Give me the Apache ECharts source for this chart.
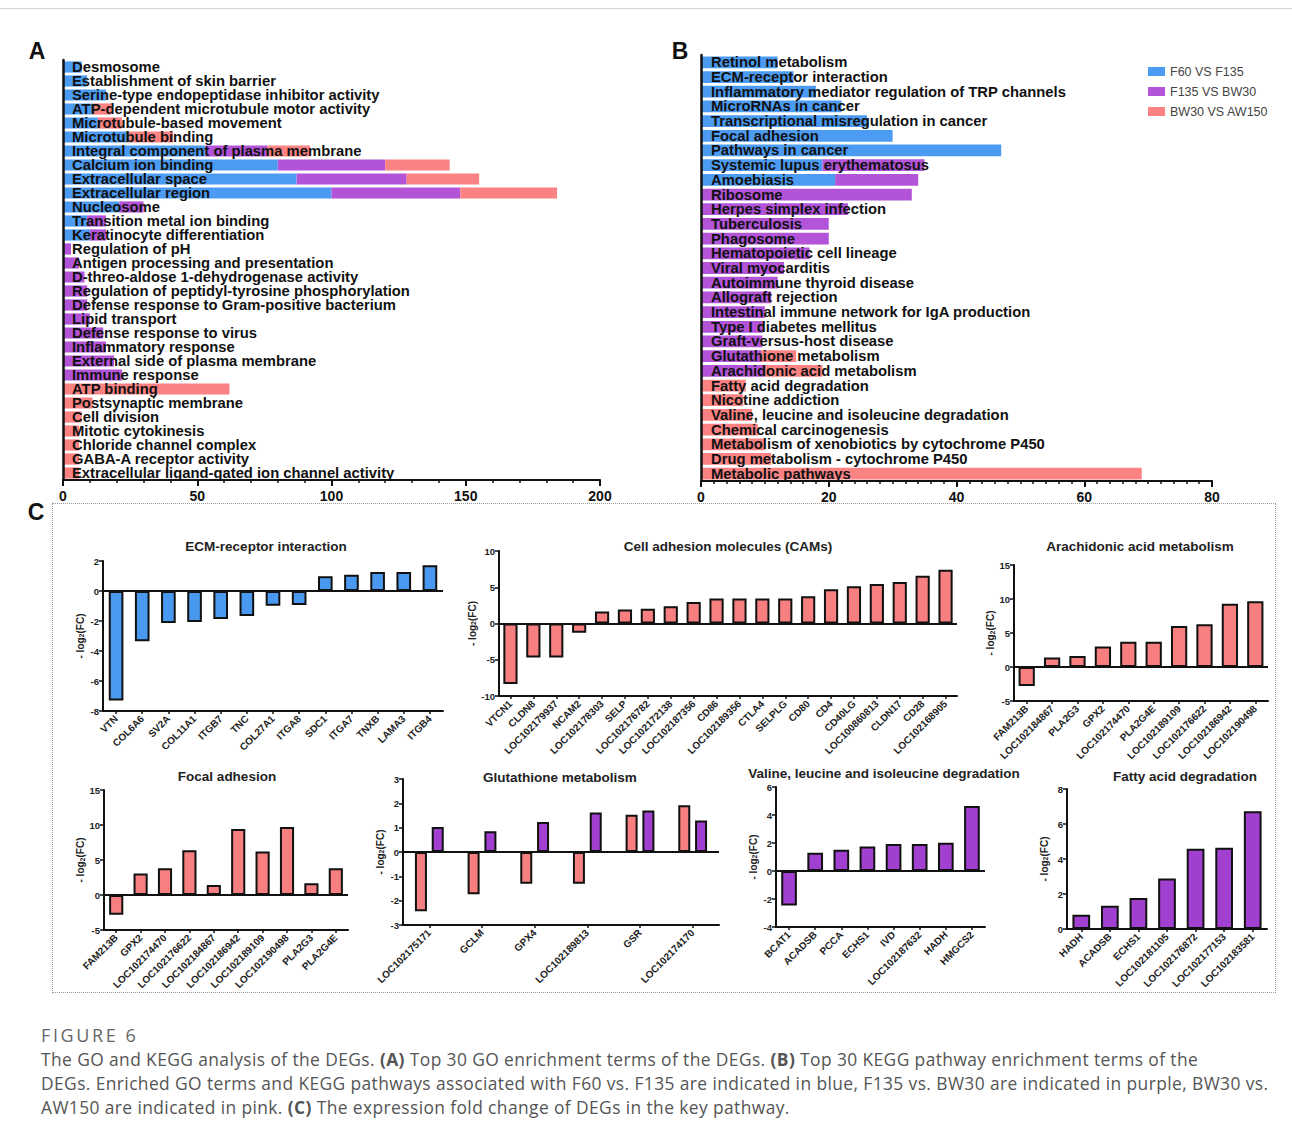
<!DOCTYPE html>
<html><head><meta charset="utf-8">
<script src="https://cdn.jsdelivr.net/npm/echarts@6/dist/echarts.min.js"></script>
<style>
html,body{margin:0;padding:0;background:#fff;}
#wrap{position:relative;width:1292px;height:1137px;overflow:hidden;background:#fff;}
#topline{position:absolute;left:0;top:8px;width:1292px;height:0;border-top:1px solid #d4d4d4;}
#cbox{position:absolute;left:52px;top:503px;width:1224px;height:490px;border:1px dotted #9a9a9a;box-sizing:border-box;}
#chart{position:absolute;left:0;top:0;width:1292px;height:1005px;}
#caption{position:absolute;left:41px;top:1023px;font-family:"Open Sans","Noto Sans",sans-serif;color:#555;white-space:nowrap;}
#caption .fig{font-size:18px;letter-spacing:2.6px;line-height:24px;color:#666;}
#caption .txt{font-size:17.4px;letter-spacing:0.4px;line-height:24px;}
</style></head>
<body><div id="wrap">
<div id="topline"></div>
<div id="cbox"></div>
<div id="chart"></div>
<div id="caption">
<div class="fig">FIGURE 6</div>
<div class="txt">The GO and KEGG analysis of the DEGs. <b>(A)</b> Top 30 GO enrichment terms of the DEGs. <b>(B)</b> Top 30 KEGG pathway enrichment terms of the<br>DEGs. Enriched GO terms and KEGG pathways associated with F60 vs. F135 are indicated in blue, F135 vs. BW30 are indicated in purple, BW30 vs.<br>AW150 are indicated in pink. <b>(C)</b> The expression fold change of DEGs in the key pathway.</div>
</div>
</div>
<script>
// ---------- DATA ----------
const groups = ['F60 VS F135', 'F135 VS BW30', 'BW30 VS AW150'];

const goTerms = ["Desmosome","Establishment of skin barrier","Serine-type endopeptidase inhibitor activity","ATP-dependent microtubule motor activity","Microtubule-based movement","Microtubule binding","Integral component of plasma membrane","Calcium ion binding","Extracellular space","Extracellular region","Nucleosome","Transition metal ion binding","Keratinocyte differentiation","Regulation of pH","Antigen processing and presentation","D-threo-aldose 1-dehydrogenase activity","Regulation of peptidyl-tyrosine phosphorylation","Defense response to Gram-positive bacterium","Lipid transport","Defense response to virus","Inflammatory response","External side of plasma membrane","Immune response","ATP binding","Postsynaptic membrane","Cell division","Mitotic cytokinesis","Chloride channel complex","GABA-A receptor activity","Extracellular ligand-gated ion channel activity"];
const goBlue   = [7,9,16,11,13,24,53,80,87,100,21,9,10,0,0,0,0,0,0,0,0,0,0,0,0,0,0,0,0,0];
const goPurple = [0,0,0,0,0,0,23,40,41,48,9,7,6,3,6,8,9,9,10,15,16,19,22,0,0,0,0,0,0,0];
const goPink   = [0,0,0,7,9,17,16,24,27,36,0,0,0,0,0,0,0,0,0,0,0,0,0,62,11,7,6,6,6,6];
const goTicks  = [0,50,100,150,200];

const keggTerms = ["Retinol metabolism","ECM-receptor interaction","Inflammatory mediator regulation of TRP channels","MicroRNAs in cancer","Transcriptional misregulation in cancer","Focal adhesion","Pathways in cancer","Systemic lupus erythematosus","Amoebiasis","Ribosome","Herpes simplex infection","Tuberculosis","Phagosome","Hematopoietic cell lineage","Viral myocarditis","Autoimmune thyroid disease","Allograft rejection","Intestinal immune network for IgA production","Type I diabetes mellitus","Graft-versus-host disease","Glutathione metabolism","Arachidonic acid metabolism","Fatty acid degradation","Nicotine addiction","Valine, leucine and isoleucine degradation","Chemical carcinogenesis","Metabolism of xenobiotics by cytochrome P450","Drug metabolism - cytochrome P450","Metabolic pathways"];
const keggBlue   = [12,14.5,18,22,26,30,47,19,21,0,0,0,0,0,0,0,0,0,0,0,0,0,0,0,0,0,0,0,0];
const keggPurple = [0,0,0,0,0,0,0,16,13,33,23,20,20,17,13,12,11,10,9.7,9.6,9.4,10,0,0,0,0,0,0,0];
const keggPink   = [0,0,0,0,0,0,0,0,0,0,0,0,0,0,0,0,0,0,0,0,5.5,9,7,6.6,8,8.9,10,11,69];
const keggTicks  = [0,20,40,60,80];

const ecmGenes = ["VTN","COL6A6","SV2A","COL11A1","ITGB7","TNC","COL27A1","ITGA8","SDC1","ITGA7","TNXB","LAMA3","ITGB4"];
const ecmFC    = [-7.3,-3.35,-2.13,-2.07,-1.87,-1.67,-0.98,-0.93,0.98,1.09,1.27,1.27,1.71];

const camGenes = ["VTCN1","CLDN8","LOC102179937","NCAM2","LOC102178303","SELP","LOC102176782","LOC102172138","LOC102187356","CD86","LOC102189356","CTLA4","SELPLG","CD80","CD4","CD40LG","LOC100860813","CLDN17","CD28","LOC102168905"];
const camFC    = [-8.35,-4.68,-4.68,-1.28,1.65,1.93,2.02,2.39,2.98,3.44,3.44,3.44,3.44,3.76,4.72,5.14,5.46,5.73,6.6,7.43];

const araGenes = ["FAM213B","LOC102184867","PLA2G3","GPX2","LOC102174470","PLA2G4E","LOC102189109","LOC102176622","LOC102186942","LOC102190498"];
const araFC    = [-2.8,1.38,1.62,3.0,3.73,3.73,6.04,6.29,9.29,9.68];

const focGenes = ["FAM213B","GPX2","LOC102174470","LOC102176622","LOC102184867","LOC102186942","LOC102189109","LOC102190498","PLA2G3","PLA2G4E"];
const focFC    = [-2.82,3.06,3.83,6.41,1.44,9.43,6.22,9.71,1.67,3.83];

const gluGenes  = ["LOC102175171","GCLM","GPX4","LOC102189813","GSR","LOC102174170"];
const gluPink   = [-2.44,-1.74,-1.3,-1.3,1.53,1.92];
const gluPurple = [1.03,0.85,1.23,1.62,1.71,1.29];

const valGenes = ["BCAT1","ACADSB","PCCA","ECHS1","IVD","LOC102187632","HADH","HMGCS2"];
const valFC    = [-2.46,1.3,1.52,1.75,1.92,1.92,2.01,4.64];

const fatGenes = ["HADH","ACADSB","ECHS1","LOC102181105","LOC102176872","LOC102177153","LOC102183581"];
const fatFC    = [0.82,1.33,1.77,2.89,4.58,4.64,6.73];

// ---------- STYLE ----------
const FONT = 'Arial, "Liberation Sans", Helvetica, sans-serif';
const BLUE = '#4b9bf3', PURPLE = '#b253d8', PINK = '#fa8282';
const CBLUE = '#4a99f0', CPURPLE = '#a13fd0', CPINK = '#f87f7f';
const INK = '#111';

const grids = [], xAxes = [], yAxes = [], series = [], graphics = [];

function letter(t, x, y) {
  graphics.push({type:'text', x:x, y:y, z:20, style:{text:t, fill:INK, font:'bold 23px ' + FONT, align:'center', verticalAlign:'middle'}});
}
letter('A', 37, 51); letter('B', 680, 51); letter('C', 36, 512);

function enrichPanel(grid, terms, blue, purple, pink, ticks, minorSplit, labelMargin) {
  const gi = grids.length;
  grids.push(grid);
  xAxes.push({gridIndex:gi, type:'value', min:ticks[0], max:ticks[ticks.length-1], interval:ticks[1]-ticks[0],
    axisLine:{show:true, lineStyle:{color:INK, width:2.2}},
    axisTick:{show:true, length:6, lineStyle:{color:INK, width:2}},
    minorTick:{show:true, splitNumber:minorSplit, length:3, lineStyle:{color:INK, width:1.5}},
    splitLine:{show:false},
    axisLabel:{color:INK, fontFamily:FONT, fontWeight:'bold', fontSize:14, margin:9}});
  yAxes.push({gridIndex:gi, type:'category', inverse:true, data:terms, z:5,
    axisLine:{show:true, lineStyle:{color:INK, width:2.5}},
    axisTick:{show:false},
    axisLabel:{inside:true, interval:0, margin:labelMargin, color:INK, fontFamily:FONT, fontWeight:'bold', fontSize:14.8}});
  const vals = [blue, purple, pink], cols = [BLUE, PURPLE, PINK];
  for (let k = 0; k < 3; k++) {
    series.push({type:'bar', name:groups[k], xAxisIndex:gi, yAxisIndex:gi, stack:'s' + gi,
      data:vals[k], barWidth:'80%', itemStyle:{color:cols[k]}, emphasis:{disabled:true}});
  }
}
enrichPanel({left:63, top:60, width:537, height:420}, goTerms, goBlue, goPurple, goPink, goTicks, 5, 9);
enrichPanel({left:701, top:55, width:511, height:426}, keggTerms, keggBlue, keggPurple, keggPink, keggTicks, 10, 10);

function fcPanel(o) {
  const gi = grids.length;
  grids.push(o.grid);
  xAxes.push({gridIndex:gi, type:'category', data:o.cats,
    axisLine:{show:true, onZero:false, lineStyle:{color:INK, width:2}},
    axisTick:{show:true, alignWithLabel:true, length:3, lineStyle:{color:INK, width:1.5}},
    axisLabel:{interval:0, rotate:45, margin:6, color:'#222', fontFamily:FONT, fontWeight:'bold', fontSize:10}});
  yAxes.push({gridIndex:gi, type:'value', min:o.min, max:o.max, interval:o.interval,
    name:'- log{s|2}(FC)', nameLocation:'middle', nameGap:o.nameGap || 18, nameRotate:90,
    nameTextStyle:{color:'#222', fontFamily:FONT, fontWeight:'bold', fontSize:10,
      rich:{s:{fontSize:7, fontWeight:'bold', fontFamily:FONT, color:'#222', padding:[3,0,0,0]}}},
    axisLine:{show:true, lineStyle:{color:INK, width:2}},
    axisTick:{show:true, length:4, lineStyle:{color:INK, width:1.5}},
    splitLine:{show:false},
    axisLabel:{color:'#222', fontFamily:FONT, fontWeight:'bold', fontSize:9.5, margin:4}});
  o.series.forEach(function (s, k) {
    const ser = {type:'bar', name:'c' + gi + '_' + k, xAxisIndex:gi, yAxisIndex:gi, data:s.data,
      itemStyle:{color:s.color, borderColor:INK, borderWidth:2}, emphasis:{disabled:true}};
    if (o.series.length === 1) ser.barWidth = o.barWidth || '56%';
    else { ser.barWidth = 12; ser.barGap = '40%'; }
    if (k === 0) ser.markLine = {silent:true, symbol:'none', label:{show:false}, z:4,
      lineStyle:{color:INK, width:2, type:'solid'}, data:[{yAxis:0}]};
    series.push(ser);
  });
  graphics.push({type:'text', x:o.tx, y:o.ty, z:20, style:{text:o.title, fill:'#222', font:'bold 13.5px ' + FONT, align:'center', verticalAlign:'middle'}});
}

fcPanel({title:'ECM-receptor interaction', tx:266, ty:546, grid:{left:103, top:561, width:340, height:150},
  cats:ecmGenes, series:[{data:ecmFC, color:CBLUE}], min:-8, max:2, interval:2});
fcPanel({title:'Cell adhesion molecules (CAMs)', tx:728, ty:546, grid:{left:499, top:551, width:458, height:145},
  cats:camGenes, series:[{data:camFC, color:CPINK}], min:-10, max:10, interval:5, barWidth:'62%'});
fcPanel({title:'Arachidonic acid metabolism', tx:1140, ty:546, grid:{left:1014, top:565, width:254, height:136},
  cats:araGenes, series:[{data:araFC, color:CPINK}], min:-5, max:15, interval:5, barWidth:'64%'});
fcPanel({title:'Focal adhesion', tx:227, ty:776, grid:{left:104, top:790, width:244, height:140},
  cats:focGenes, series:[{data:focFC, color:CPINK}], min:-5, max:15, interval:5, barWidth:'58%'});
fcPanel({title:'Glutathione metabolism', tx:560, ty:777, grid:{left:403, top:779, width:316, height:146},
  cats:gluGenes, series:[{data:gluPink, color:CPINK}, {data:gluPurple, color:CPURPLE}], min:-3, max:3, interval:1});
fcPanel({title:'Valine, leucine and isoleucine degradation', tx:884, ty:773, grid:{left:776, top:787, width:209, height:140},
  cats:valGenes, series:[{data:valFC, color:CPURPLE}], min:-4, max:6, interval:2, barWidth:'60%'});
fcPanel({title:'Fatty acid degradation', tx:1185, ty:776, grid:{left:1067, top:789, width:200, height:140},
  cats:fatGenes, series:[{data:fatFC, color:CPURPLE}], min:0, max:8, interval:2, barWidth:'62%'});

const chart = echarts.init(document.getElementById('chart'), null, {renderer:'svg'});
chart.setOption({
  animation:false,
  backgroundColor:'transparent',
  textStyle:{fontFamily:FONT},
  legend:{data:groups, orient:'vertical', left:1143, top:60, itemWidth:17, itemHeight:9, itemGap:7,
    icon:'rect', selectedMode:false, textStyle:{color:'#444', fontFamily:FONT, fontSize:12.5}},
  grid:grids, xAxis:xAxes, yAxis:yAxes, series:series, graphic:graphics
});
</script>
</body></html>
